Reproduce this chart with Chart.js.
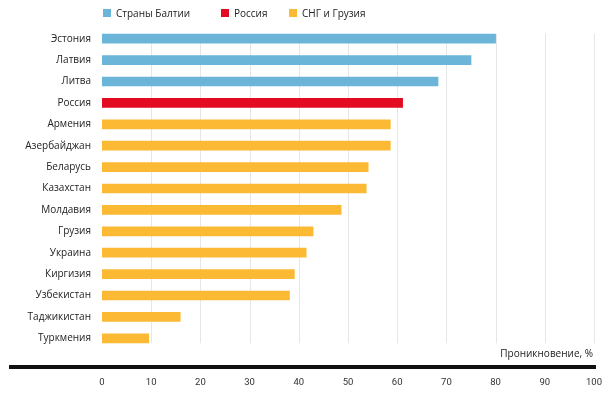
<!DOCTYPE html>
<html>
<head>
<meta charset="utf-8">
<script src="https://cdn.jsdelivr.net/npm/chart.js@4"></script>
<style>
  body { margin: 0; background: #fff; }
  #wrap { position: relative; width: 604px; height: 393px; }
  .legend { position: absolute; top: 6px; font: 10px "Open Sans", sans-serif; color: #222; white-space: nowrap; }
  .legend i { position: absolute; left: -13px; top: 3px; width: 8px; height: 8px; }
  #xtitle { position: absolute; right: 11px; top: 346px; font: 10px "Open Sans", sans-serif; color: #222; }
</style>
</head>
<body>
<div id="wrap">
  <canvas id="chart" width="604" height="393"></canvas>
  <div id="legend"></div>
  <div id="xtitle">Проникновение, %</div>
</div>
<script>
const categories = [
  "Эстония", "Латвия", "Литва", "Россия", "Армения", "Азербайджан", "Беларусь",
  "Казахстан", "Молдавия", "Грузия", "Украина", "Киргизия", "Узбекистан",
  "Таджикистан", "Туркмения",
];
const values = [80, 75, 68.3, 61.1, 58.6, 58.6, 54.1, 53.7, 48.6, 42.9, 41.5, 39.1, 38.1, 15.9, 9.5];
const groupOf = [0, 0, 0, 1, 2, 2, 2, 2, 2, 2, 2, 2, 2, 2, 2];
const groupNames = ["Страны Балтии", "Россия", "СНГ и Грузия"];
const groupColors = ["#6bb5d9", "#e30b22", "#fbb934"];
const xTicks = [0, 10, 20, 30, 40, 50, 60, 70, 80, 90, 100];

// html legend, placed like the original
const legendX = [116, 234, 302];
document.getElementById("legend").innerHTML = groupNames
  .map((n, i) => `<div class="legend" style="left:${legendX[i]}px"><i style="background:${groupColors[i]}"></i>${n}</div>`)
  .join("");

const datasets = groupNames.map((name, g) => ({
  label: name,
  data: values.map((v, i) => (groupOf[i] === g ? v : null)),
  backgroundColor: groupColors[g],
  barThickness: 9,
  grouped: false,
}));

// vertical grid only as tall as the bars, and the thick rule above the ticks
const decor = {
  id: "decor",
  beforeDatasetsDraw(chart) {
    const { ctx, scales: { x, y } } = chart;
    const top = y.getPixelForValue(0) - 5;
    const bottom = y.getPixelForValue(categories.length - 1) + 5;
    ctx.save();
    ctx.strokeStyle = "#e6e6e6";
    ctx.lineWidth = 1;
    for (const t of xTicks) {
      if (t === 0) continue;
      const px = Math.round(x.getPixelForValue(t)) + 0.5;
      ctx.beginPath();
      ctx.moveTo(px, top);
      ctx.lineTo(px, bottom);
      ctx.stroke();
    }
    ctx.restore();
  },
  afterDraw(chart) {
    const { ctx, chartArea } = chart;
    ctx.save();
    ctx.fillStyle = "#111";
    ctx.fillRect(9, chartArea.bottom + 16, chart.width - 17, 4);
    ctx.restore();
  },
};

new Chart(document.getElementById("chart"), {
  type: "bar",
  data: { labels: categories, datasets },
  plugins: [decor],
  options: {
    indexAxis: "y",
    responsive: false,
    animation: false,
    layout: { padding: { top: 28, right: 10, bottom: 4, left: 0 } },
    plugins: { legend: { display: false }, tooltip: { enabled: false } },
    scales: {
      x: {
        min: 0,
        max: 100,
        afterBuildTicks: (s) => { s.ticks = xTicks.map((v) => ({ value: v })); },
        afterFit: (s) => { s.height = 40; s.paddingLeft = 0; s.paddingRight = 0; },
        grid: { display: false, drawTicks: false },
        border: { display: false },
        ticks: { padding: 28, maxRotation: 0, autoSkip: false, color: "#333", font: { family: "Roboto", size: 9.5 } },
      },
      y: {
        afterFit: (s) => { s.width = 102; },
        grid: { display: false, drawTicks: false },
        border: { display: false },
        ticks: { padding: 11, color: "#222", font: { family: "Open Sans", size: 10 } },
      },
    },
  },
});
</script>
</body>
</html>
